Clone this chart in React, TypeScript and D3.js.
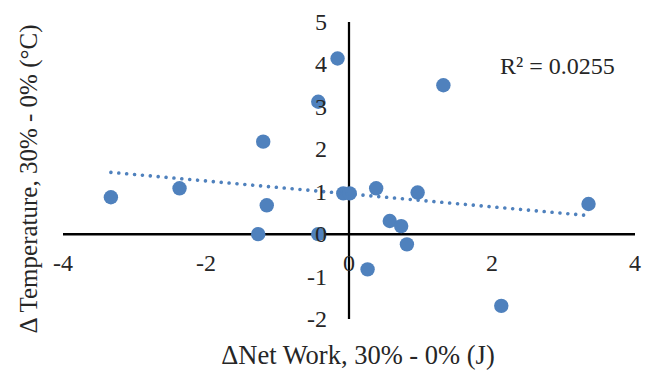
import React from "react";
import * as d3 from "d3";

const workDelta = [-3.33, -2.37, -1.2, -1.15, -1.27, -0.43, -0.16, -0.43, -0.08, 0.01, 0.38, 0.96, 0.57, 0.73, 0.81, 0.26, 2.13, 3.35, 1.32];
const tempDelta = [0.87, 1.08, 2.18, 0.68, 0.0, 3.12, 4.14, 0.0, 0.96, 0.96, 1.08, 0.98, 0.31, 0.19, -0.24, -0.83, -1.69, 0.71, 3.51];
const xTicks = [-4, -2, 0, 2, 4];
const yTicks = [-2, -1, 0, 1, 2, 3, 4, 5];
const xTitle = "\u0394Net Work, 30% - 0% (J)";
const yTitle = "\u0394 Temperature, 30% - 0% (\u00B0C)";
const r2Label = "R\u00B2 = 0.0255";

const FONT = "Liberation Serif";
const BLUE = "#4F81BD";
const TEXT = "#262626";

export default function App() {
  const x = d3.scaleLinear().domain([-4, 4]).range([63, 635]);
  const y = d3.scaleLinear().domain([-2, 5]).range([319, 22]);

  const n = workDelta.length;
  const mx = d3.mean(workDelta) as number;
  const my = d3.mean(tempDelta) as number;
  let sxy = 0;
  let sxx = 0;
  for (let i = 0; i < n; i++) {
    sxy += (workDelta[i] - mx) * (tempDelta[i] - my);
    sxx += (workDelta[i] - mx) * (workDelta[i] - mx);
  }
  const slope = sxy / sxx;
  const intercept = my - slope * mx;
  const [x0, x1] = d3.extent(workDelta) as [number, number];
  const trend = d3.line<number>().x((d) => x(d)).y((d) => y(intercept + slope * d))([x0, x1]) as string;

  return (
    <svg width={650} height={372} style={{ position: "absolute", left: 0, top: 0 }}>
      <rect width={650} height={372} fill="#fff" />
      <line x1={x(-4)} x2={x(4)} y1={y(0)} y2={y(0)} stroke="#000" strokeWidth={2.5} />
      <line x1={x(0)} x2={x(0)} y1={y(5)} y2={y(-2)} stroke="#000" strokeWidth={2.25} />
      {workDelta.map((wx, i) => (
        <circle key={i} cx={x(wx)} cy={y(tempDelta[i])} r={7.2} fill={BLUE} />
      ))}
      <path d={trend} fill="none" stroke={BLUE} strokeWidth={3.6} strokeDasharray="0.01 7.9" strokeLinecap="round" />
      {xTicks.map((t) => (
        <text key={"x" + t} fontFamily={FONT} x={x(t)} y={y(0) + 37} textAnchor="middle" fontSize={24} fill={TEXT}>
          {t}
        </text>
      ))}
      {yTicks.map((t) => (
        <text key={"y" + t} fontFamily={FONT} x={x(0) - 22} y={y(t) + 8} textAnchor="end" fontSize={24} fill={TEXT}>
          {t}
        </text>
      ))}
      <text fontFamily={FONT} x={500} y={74} fontSize={24} fill={TEXT}>{r2Label}</text>
      <text fontFamily={FONT} x={358} y={364} textAnchor="middle" fontSize={26.5} fill={TEXT}>{xTitle}</text>
      <text fontFamily={FONT} transform="translate(37,179) rotate(-90)" textAnchor="middle" fontSize={25} fill={TEXT}>{yTitle}</text>
    </svg>
  );
}
